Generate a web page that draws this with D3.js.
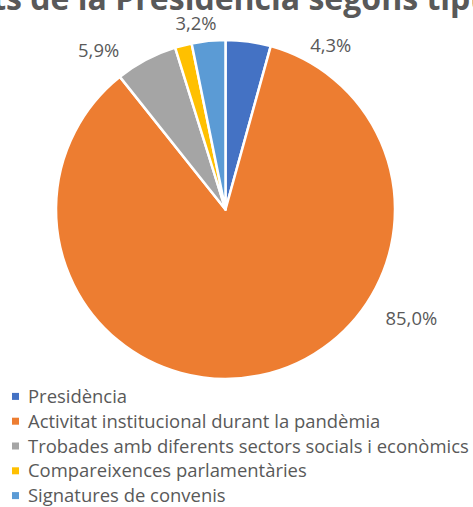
<!DOCTYPE html>
<html>
<head>
<meta charset="utf-8">
<script src="https://cdn.jsdelivr.net/npm/d3@7"></script>
<style>
  html, body { margin: 0; padding: 0; background: #fff; }
  svg { display: block; }
</style>
</head>
<body>
<svg id="chart" width="473" height="507"></svg>
<script>
// ---- data ----
const titleText = "Activitats de la Presidència segons tipus";
const categories = [
  "Presidència",
  "Activitat institucional durant la pandèmia",
  "Trobades amb diferents sectors socials i econòmics",
  "Compareixences parlamentàries",
  "Signatures de convenis"
];
const values = [4.3, 85.0, 5.9, 1.6, 3.2];
const labelTexts = ["4,3%", "85,0%", "5,9%", null, "3,2%"];
const colors = ["#4472C4", "#ED7D31", "#A5A5A5", "#FFC000", "#5B9BD5"];
// label placement (polar: angle in degrees clockwise from top, distance as fraction of radius)
const labelAngles = [32.7, 120.3, -38.6, null, -9];
const labelDist = [1.15, 1.27, 1.20, null, 1.11];

// ---- layout ----
const svg = d3.select("#chart");
const cx = 225.5, cy = 209.5, R = 169.5;
const font = "'Open Sans', sans-serif";
const textColor = "#595959";

function measure(text, size, weight) {
  const t = svg.append("text").attr("font-family", font).attr("font-size", size)
    .attr("font-weight", weight || "normal").text(text);
  const w = t.node().getComputedTextLength();
  t.remove();
  return w;
}

// Title (fit so "de la Presidència segons " spans ~388px, starting at x=22)
const tSize = 100 * 388 / measure("de la Presidència segons ", 100, "bold");
const prefixW = measure("Activitats ", tSize, "bold");
svg.append("text")
  .attr("x", 22 - prefixW)
  .attr("y", 10)
  .attr("font-family", font)
  .attr("font-weight", "bold")
  .attr("font-size", tSize)
  .attr("fill", textColor)
  .text(titleText);

// Pie
const pie = d3.pie().sort(null).value(d => d);
const arcs = pie(values);
const arc = d3.arc().innerRadius(0).outerRadius(R);
const g = svg.append("g").attr("transform", `translate(${cx},${cy})`);
g.selectAll("path.slice")
  .data(arcs)
  .join("path")
  .attr("class", "slice")
  .attr("d", arc)
  .attr("fill", (d, i) => colors[i])
  .attr("stroke", "#fff")
  .attr("stroke-width", 2.5)
  .attr("stroke-linejoin", "round");

// Text size (fit legend longest line to ~441px)
const lSize = 100 * 441 / measure(categories[2], 100);

// Data labels
g.selectAll("text.lbl")
  .data(arcs.filter((d, i) => labelTexts[i] !== null))
  .join("text")
  .attr("class", "lbl")
  .each(function(d) {
    const i = d.index;
    const a = labelAngles[i] * Math.PI / 180;
    const r = labelDist[i] * R;
    d3.select(this)
      .attr("x", r * Math.sin(a))
      .attr("y", -r * Math.cos(a))
      .text(labelTexts[i]);
  })
  .attr("text-anchor", "middle")
  .attr("dy", "0.36em")
  .attr("font-family", font)
  .attr("font-size", lSize)
  .attr("fill", textColor);

// Legend
const ly = d3.scaleBand().domain(d3.range(categories.length)).range([384, 508]);
const legend = svg.append("g");
const items = legend.selectAll("g.item").data(categories).join("g")
  .attr("class", "item")
  .attr("transform", (d, i) => `translate(0,${ly(i) + ly.bandwidth() / 2})`);
items.append("rect")
  .attr("x", 12).attr("y", -3.5).attr("width", 7).attr("height", 7)
  .attr("fill", (d, i) => colors[i]);
items.append("text")
  .attr("x", 28).attr("dy", "0.36em")
  .attr("font-family", font)
  .attr("font-size", lSize)
  .attr("fill", textColor)
  .text(d => d);
</script>
</body>
</html>
